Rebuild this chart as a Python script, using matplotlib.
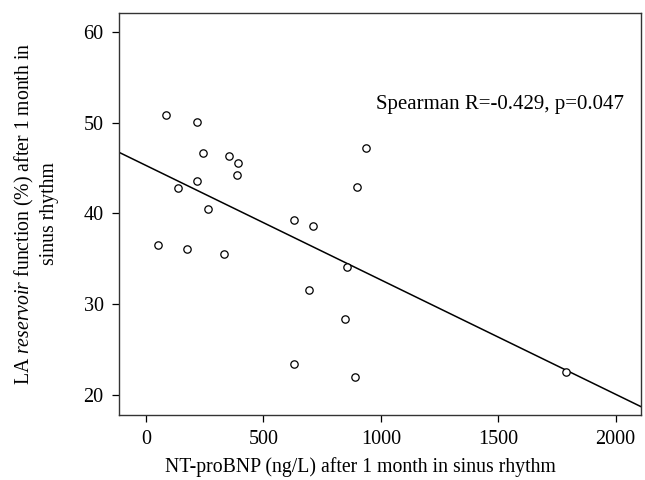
import matplotlib.pyplot as plt
import numpy as np

plt.rcParams["font.family"] = ["Liberation Serif", "DejaVu Serif"]
plt.rcParams["mathtext.fontset"] = "custom"
plt.rcParams["mathtext.rm"] = "Liberation Serif"
plt.rcParams["mathtext.it"] = "Liberation Serif:italic"

# NT-proBNP (ng/L) and LA reservoir function (%)
ntprobnp = [87, 216, 243, 354, 393, 388, 217, 138, 262, 52, 176,
            333, 630, 713, 939, 899, 854, 694, 846, 632, 889, 1787]
la_reservoir = [50.8, 50.1, 46.6, 46.3, 45.5, 44.2, 43.6, 42.8, 40.5, 36.5, 36.1,
                35.5, 39.3, 38.6, 47.2, 42.9, 34.1, 31.6, 28.4, 23.4, 22.0, 22.5]

# fitted line as drawn
fit_intercept = 45.28
fit_slope = -0.0126

x_ticks = [0, 500, 1000, 1500, 2000]
y_ticks = [20, 30, 40, 50, 60]

fig = plt.figure(figsize=(6.45, 4.8), dpi=100)
ax = fig.add_axes([0.1845, 0.1354, 0.8093, 0.8381])

xlim = (-115, 2108)
xs = np.array(xlim)
ax.plot(xs, fit_intercept + fit_slope * xs, color="black", lw=1.1)

ax.plot(ntprobnp, la_reservoir, linestyle="none", marker="o", markersize=5.3,
        markerfacecolor="white", markeredgecolor="black", markeredgewidth=0.9)

ax.set_xlim(*xlim)
ax.set_ylim(17.8, 62.1)
ax.set_xticks(x_ticks)
ax.set_yticks(y_ticks)
ax.tick_params(direction="out", length=5, width=0.9, labelsize=14.5, pad=6)
for s in ax.spines.values():
    s.set_linewidth(1.0)
    s.set_color("#333333")

ax.text(979, 52.0, "Spearman R=-0.429, p=0.047", fontsize=15, va="center", ha="left")

fig.text(0.559, 0.026, "NT-proBNP (ng/L) after 1 month in sinus rhythm",
         fontsize=14.2, ha="center", va="center")
ax.set_ylabel("LA $\\it{reservoir}$ function (%) after 1 month in\nsinus rhythm",
              fontsize=14.2, linespacing=1.25, labelpad=18)

fig.savefig("out.png", dpi=100)
